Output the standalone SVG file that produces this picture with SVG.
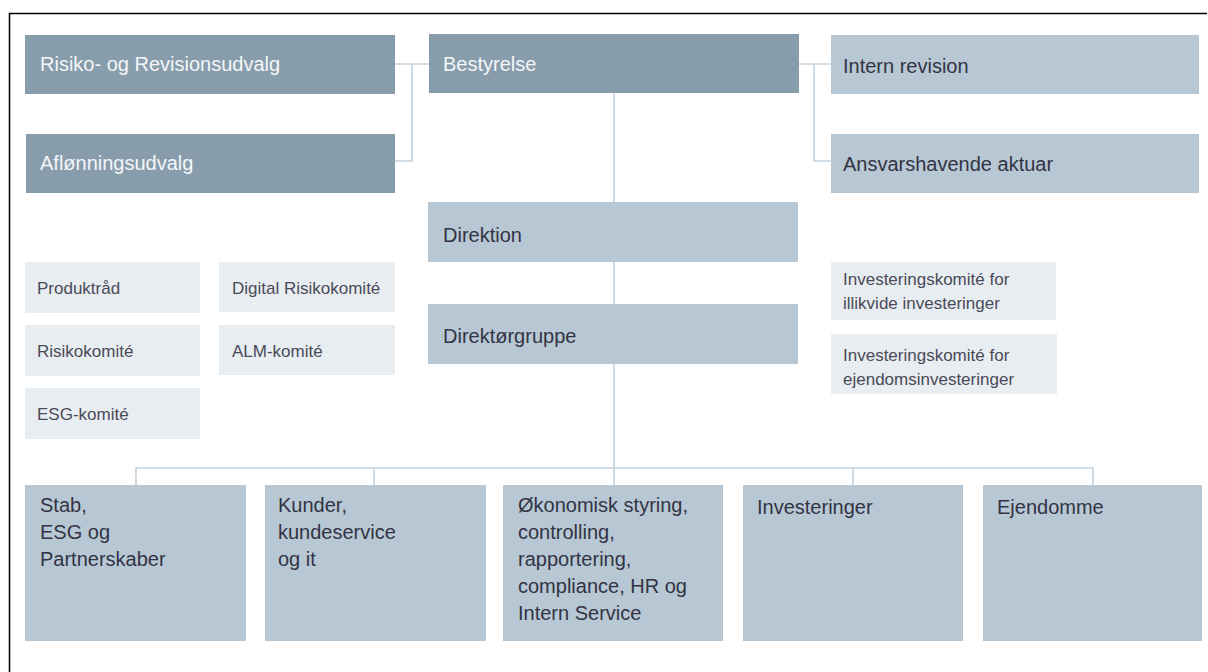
<svg xmlns="http://www.w3.org/2000/svg" width="1208" height="672" viewBox="0 0 1208 672">
<style>
text{font-family:"Liberation Sans",Arial,sans-serif}
.dark{fill:#889dac}
.mid{fill:#b7c8d4}
.pale{fill:#e8edf1}
.tw{fill:#f4f6f8;font-size:20px}
.tm{fill:#333344;font-size:20px}
.ts{fill:#4a4a58;font-size:17px}
.conn{fill:none;stroke:#c3d2dd;stroke-width:1.6}
</style>
<rect width="1208" height="672" fill="#ffffff"/>
<path d="M9.5 672 V13.5 H1207" fill="none" stroke="#000" stroke-width="1.5"/>
<g id="connectors">
<path class="conn" d="M395 64 H429 M412 64 V161 H395"/>
<path class="conn" d="M799 64 H831 M814 64 V161 H831"/>
<path class="conn" d="M614 93 V202 M614 262 V304 M614 364 V468"/>
<path class="conn" d="M136 485 V468 H1093 V485 M374 468 V485 M614 468 V485 M853 468 V485"/>
</g>
<g id="risiko"><rect class="dark" x="25" y="35" width="370" height="59"/><text class="tw" x="40" y="71">Risiko- og Revisionsudvalg</text></g>
<g id="afloenning"><rect class="dark" x="26" y="134" width="369" height="59"/><text class="tw" x="40" y="170">Aflønningsudvalg</text></g>
<g id="bestyrelse"><rect class="dark" x="429" y="34" width="370" height="59"/><text class="tw" x="443" y="71">Bestyrelse</text></g>
<g id="intern-revision"><rect class="mid" x="831" y="35" width="368" height="59"/><text class="tm" x="843" y="73">Intern revision</text></g>
<g id="aktuar"><rect class="mid" x="831" y="134" width="368" height="59"/><text class="tm" x="843" y="171">Ansvarshavende aktuar</text></g>
<g id="direktion"><rect class="mid" x="428" y="202" width="370" height="60"/><text class="tm" x="443" y="242">Direktion</text></g>
<g id="direktoergruppe"><rect class="mid" x="428" y="304" width="370" height="60"/><text class="tm" x="443" y="343">Direktørgruppe</text></g>
<g id="produktraad"><rect class="pale" x="25" y="262" width="175" height="51"/><text class="ts" x="37" y="294">Produktråd</text></g>
<g id="digital"><rect class="pale" x="219" y="262" width="176" height="50"/><text class="ts" x="232" y="294">Digital Risikokomité</text></g>
<g id="risikokomite"><rect class="pale" x="25" y="325" width="175" height="51"/><text class="ts" x="37" y="357">Risikokomité</text></g>
<g id="alm"><rect class="pale" x="219" y="325" width="176" height="50"/><text class="ts" x="232" y="357">ALM-komité</text></g>
<g id="esg-komite"><rect class="pale" x="25" y="388" width="175" height="51"/><text class="ts" x="37" y="420">ESG-komité</text></g>
<g id="ik-illikvide"><rect class="pale" x="831" y="262" width="225" height="58"/><text class="ts" x="843" y="285">Investeringskomité for</text><text class="ts" x="843" y="309">illikvide investeringer</text></g>
<g id="ik-ejendom"><rect class="pale" x="831" y="334" width="226" height="60"/><text class="ts" x="843" y="361">Investeringskomité for</text><text class="ts" x="843" y="385">ejendomsinvesteringer</text></g>
<g id="stab"><rect class="mid" x="25" y="485" width="221" height="156"/><text class="tm" x="40" y="512">Stab,</text><text class="tm" x="40" y="539">ESG og</text><text class="tm" x="40" y="566">Partnerskaber</text></g>
<g id="kunder"><rect class="mid" x="265" y="485" width="221" height="156"/><text class="tm" x="278" y="512">Kunder,</text><text class="tm" x="278" y="539">kundeservice</text><text class="tm" x="278" y="566">og it</text></g>
<g id="oekonomi"><rect class="mid" x="503" y="485" width="220" height="156"/><text class="tm" x="518" y="512">Økonomisk styring,</text><text class="tm" x="518" y="539">controlling,</text><text class="tm" x="518" y="566">rapportering,</text><text class="tm" x="518" y="593">compliance, HR og</text><text class="tm" x="518" y="620">Intern Service</text></g>
<g id="investeringer"><rect class="mid" x="743" y="485" width="220" height="156"/><text class="tm" x="757" y="514">Investeringer</text></g>
<g id="ejendomme"><rect class="mid" x="983" y="485" width="219" height="156"/><text class="tm" x="997" y="514">Ejendomme</text></g>
</svg>
